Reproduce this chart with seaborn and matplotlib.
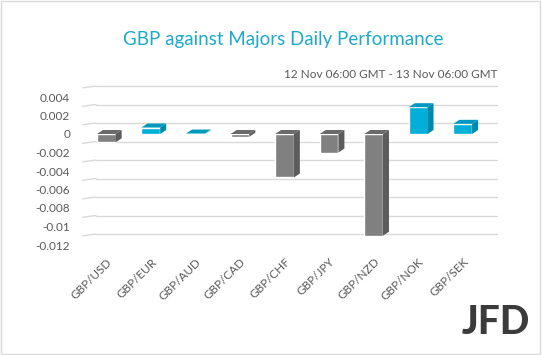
import matplotlib
matplotlib.use("Agg")
import matplotlib.pyplot as plt
import matplotlib.transforms as mtransforms
from matplotlib.patches import Polygon, Rectangle
import seaborn as sns
import pandas as pd
import numpy as np

pairs = ["GBP/USD", "GBP/EUR", "GBP/AUD", "GBP/CAD", "GBP/CHF",
         "GBP/JPY", "GBP/NZD", "GBP/NOK", "GBP/SEK"]
changes = [-0.0009, 0.0007, 0.00005, -0.0003, -0.0047,
           -0.002, -0.011, 0.0029, 0.0011]
yticks = [0.004, 0.002, 0, -0.002, -0.004, -0.006, -0.008, -0.01, -0.012]

df = pd.DataFrame({"pair": pairs, "change": changes})
df["dir"] = np.where(df["change"] >= 0, "up", "down")

sns.set_theme(style="white")
plt.rcParams["font.family"] = ["Lato", "DejaVu Sans"]

front = {"up": "#00b0d8", "down": "#808080"}
side = {"up": "#0089a8", "down": "#5c5c5c"}
top = {"up": "#0099bd", "down": "#6a6a6a"}

fig = plt.figure(figsize=(5.42, 3.55), dpi=100)
ax = fig.add_axes([84/542, 1-245/355, (485-84)/542, (245-97)/355])

sns.barplot(data=df, x="pair", y="change", hue="dir", palette=front,
            dodge=False, width=0.42, legend=False, ax=ax, saturation=1,
            order=pairs, hue_order=["up", "down"])

ax.set_ylim(-0.012, 0.004)
ax.set_xlim(-0.5, len(pairs) - 0.5)
ax.set_yticks(yticks)
ax.set_yticklabels([f"{t:g}" for t in yticks], fontsize=8.5, color="#595959")
ax.tick_params(axis="y", length=0, pad=10)
ax.set_xlabel("")
ax.set_ylabel("")
ax.set_xticks(range(len(pairs)))
ax.set_xticklabels(pairs, rotation=45, ha="right", rotation_mode="anchor",
                   fontsize=8.5, color="#595959")
ax.tick_params(axis="x", length=0, pad=8)
for s in ax.spines.values():
    s.set_visible(False)
ax.set_facecolor("none")

# back-wall gridlines with perspective offset
dx, dy = 12, 11
off = mtransforms.ScaledTranslation(dx/100, dy/100, fig.dpi_scale_trans)
for t in yticks:
    ax.plot([-0.5, len(pairs) - 0.5], [t, t], color="#d9d9d9", lw=1,
            transform=ax.transData + off, zorder=0, clip_on=False)
    ax.plot([-0.5 - 0.3, -0.5], [t - 0.0002, t], color="#d9d9d9", lw=1,
            transform=ax.transData + off, zorder=0, clip_on=False)

# 3D side/top faces, taken from each bar's own geometry
ddx, ddy = 6, 4
fig.canvas.draw()
inv = ax.transData.inverted()
for p in list(ax.patches):
    h = p.get_height()
    if h == 0 or np.isnan(h):
        continue
    d = "up" if h >= 0 else "down"
    x0, w = p.get_x(), p.get_width()
    y0, y1 = sorted([p.get_y(), p.get_y() + h])
    tl = ax.transData.transform((x0, y1))
    tr = ax.transData.transform((x0 + w, y1))
    br = ax.transData.transform((x0 + w, y0))
    def sh(pt):
        return inv.transform((pt[0] + ddx, pt[1] + ddy))
    side_poly = [inv.transform(br), inv.transform(tr), sh(tr), sh(br)]
    top_poly = [inv.transform(tl), inv.transform(tr), sh(tr), sh(tl)]
    ax.add_patch(Polygon(side_poly, closed=True, fc=side[d], ec="none", zorder=3))
    ax.add_patch(Polygon(top_poly, closed=True, fc=top[d], ec="none", zorder=3))

fig.text(283/542, 1-40/355, "GBP against Majors Daily Performance",
         ha="center", va="center", fontsize=13.5, color="#1fa9c9")
fig.text(497/542, 1-75/355, "12 Nov 06:00 GMT - 13 Nov 06:00 GMT",
         ha="right", va="center", fontsize=8.5, color="#595959")
fig.text(530/542, 1-322/355, "JFD", ha="right", va="center",
         fontsize=28, fontweight="black", color="#3b3b3b")

fig.patches.append(Rectangle((0.002, 0.003), 0.995, 0.994, transform=fig.transFigure,
                             fill=False, ec="#d9d9d9", lw=1))
fig.savefig("out.png", dpi=100)
